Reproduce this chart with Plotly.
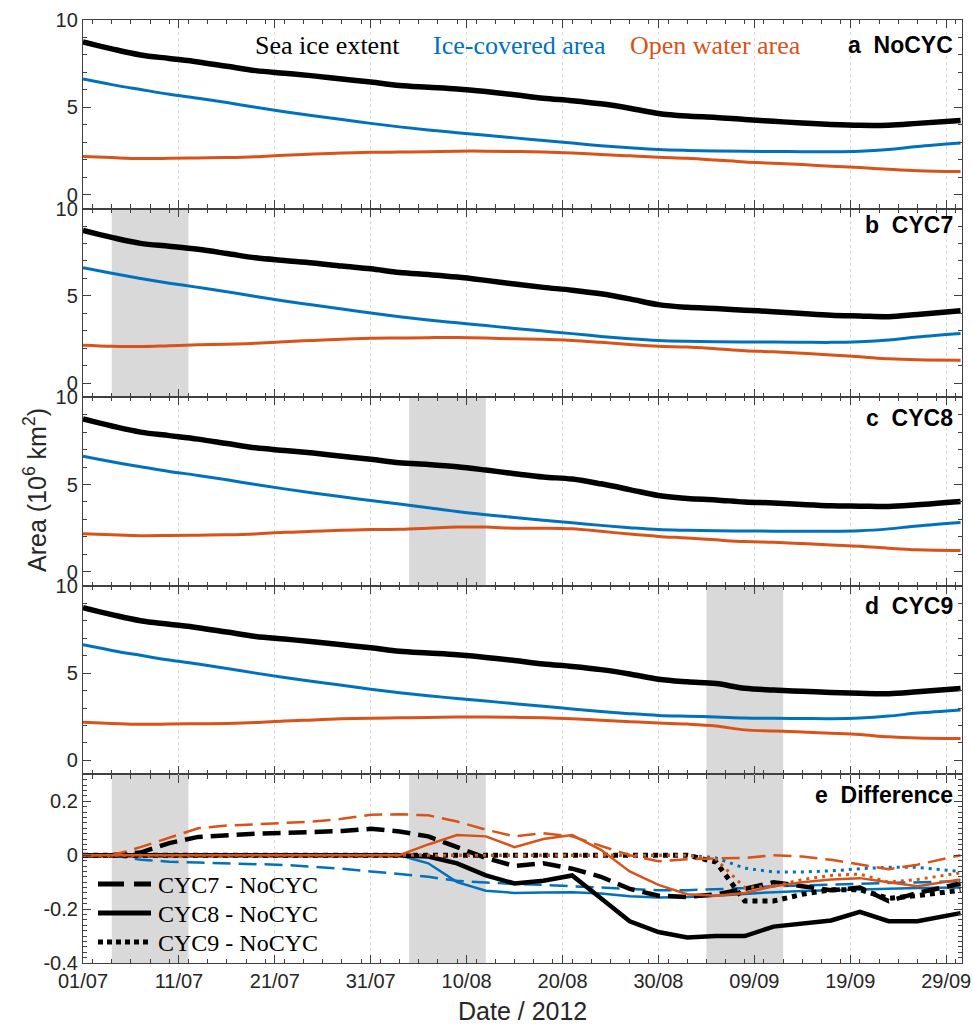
import datetime as dt
import plotly.graph_objects as go
from plotly.subplots import make_subplots

# ---------------- data (values in 10^6 km^2) ----------------
DAYS = [0, 3, 6, 9, 12, 15, 18, 21, 24, 27, 30, 33, 36, 39, 42, 45, 48, 51,
        54, 57, 60, 63, 66, 69, 72, 75, 78, 81, 84, 87, 91.5]
START = dt.datetime(2012, 7, 1)
DATES = [START + dt.timedelta(days=d) for d in DAYS]

# a NoCYC
a_ext = [8.75, 8.35, 8.0, 7.8, 7.6, 7.35, 7.1, 6.95, 6.8, 6.62, 6.45, 6.25, 6.15, 6.05, 5.9, 5.72,
         5.52, 5.38, 5.2, 4.95, 4.65, 4.5, 4.42, 4.3, 4.2, 4.1, 4.02, 3.97, 3.98, 4.08, 4.25]
a_ice = [6.62, 6.3, 6.02, 5.75, 5.52, 5.27, 5.0, 4.75, 4.52, 4.3, 4.08, 3.88, 3.7, 3.55, 3.4, 3.25,
         3.1, 2.95, 2.8, 2.68, 2.58, 2.53, 2.5, 2.48, 2.47, 2.46, 2.45, 2.48, 2.58, 2.75, 2.95]
a_opw = [2.18, 2.12, 2.07, 2.08, 2.1, 2.12, 2.17, 2.26, 2.32, 2.38, 2.42, 2.44, 2.46, 2.49, 2.49, 2.47,
         2.44, 2.38, 2.3, 2.22, 2.14, 2.08, 1.98, 1.87, 1.8, 1.72, 1.63, 1.55, 1.45, 1.37, 1.32]
# b CYC7
b_ext = [8.75, 8.35, 8.01, 7.85, 7.67, 7.43, 7.18, 7.03, 6.89, 6.71, 6.55, 6.34, 6.22, 6.08, 5.89, 5.68,
         5.49, 5.33, 5.12, 4.83, 4.5, 4.35, 4.28, 4.18, 4.1, 3.99, 3.89, 3.85, 3.81, 3.94, 4.15]
b_ice = [6.62, 6.3, 6.0, 5.73, 5.49, 5.24, 4.97, 4.71, 4.48, 4.25, 4.02, 3.81, 3.62, 3.46, 3.3, 3.14,
         2.99, 2.84, 2.68, 2.55, 2.45, 2.4, 2.37, 2.36, 2.36, 2.35, 2.34, 2.38, 2.48, 2.65, 2.85]
b_opw = [2.18, 2.12, 2.1, 2.15, 2.2, 2.23, 2.29, 2.38, 2.45, 2.52, 2.57, 2.59, 2.61, 2.62, 2.59, 2.54,
         2.52, 2.45, 2.34, 2.22, 2.12, 2.07, 1.97, 1.86, 1.8, 1.72, 1.61, 1.52, 1.4, 1.34, 1.32]
# c CYC8
c_ext = [8.75, 8.35, 8.0, 7.8, 7.6, 7.35, 7.1, 6.95, 6.8, 6.62, 6.45, 6.25, 6.15, 6.02, 5.83, 5.62,
         5.43, 5.31, 5.04, 4.71, 4.37, 4.2, 4.12, 4.0, 3.94, 3.85, 3.78, 3.76, 3.74, 3.84, 4.03]
c_ice = [6.62, 6.3, 6.02, 5.75, 5.52, 5.27, 5.0, 4.75, 4.52, 4.3, 4.08, 3.88, 3.67, 3.45, 3.27, 3.11,
         2.96, 2.81, 2.66, 2.53, 2.42, 2.38, 2.35, 2.34, 2.33, 2.33, 2.32, 2.35, 2.46, 2.63, 2.83]
c_opw = [2.18, 2.12, 2.07, 2.08, 2.1, 2.12, 2.17, 2.26, 2.32, 2.38, 2.42, 2.44, 2.5, 2.57, 2.56, 2.5,
         2.5, 2.46, 2.32, 2.16, 2.03, 1.94, 1.83, 1.73, 1.69, 1.62, 1.54, 1.47, 1.35, 1.26, 1.22]
# d CYC9
d_ext = [8.75, 8.35, 8.0, 7.8, 7.6, 7.35, 7.1, 6.95, 6.8, 6.62, 6.45, 6.25, 6.15, 6.05, 5.9, 5.72,
         5.52, 5.38, 5.2, 4.95, 4.65, 4.5, 4.4, 4.13, 4.03, 3.96, 3.89, 3.84, 3.82, 3.93, 4.12]
d_ice = [6.62, 6.3, 6.02, 5.75, 5.52, 5.27, 5.0, 4.75, 4.52, 4.3, 4.08, 3.88, 3.7, 3.55, 3.4, 3.25,
         3.1, 2.95, 2.8, 2.68, 2.58, 2.53, 2.49, 2.43, 2.41, 2.4, 2.39, 2.43, 2.54, 2.71, 2.89]
d_opw = [2.18, 2.12, 2.07, 2.08, 2.1, 2.12, 2.17, 2.26, 2.32, 2.38, 2.42, 2.44, 2.46, 2.49, 2.49, 2.47,
         2.44, 2.38, 2.3, 2.22, 2.14, 2.08, 1.97, 1.75, 1.69, 1.63, 1.56, 1.48, 1.35, 1.28, 1.25]

# e differences
e7_ext = [0, 0, 0.01, 0.045, 0.068, 0.075, 0.08, 0.083, 0.085, 0.09, 0.098, 0.088, 0.07, 0.03, -0.01, -0.04,
          -0.03, -0.05, -0.08, -0.125, -0.15, -0.155, -0.145, -0.125, -0.1, -0.115, -0.13, -0.12, -0.17, -0.14, -0.105]
e7_ice = [0, 0, -0.017, -0.024, -0.027, -0.03, -0.033, -0.036, -0.043, -0.05, -0.06, -0.07, -0.08, -0.095, -0.102, -0.107,
          -0.11, -0.115, -0.122, -0.127, -0.13, -0.13, -0.127, -0.122, -0.115, -0.112, -0.11, -0.105, -0.102, -0.1, -0.096]
e7_opw = [0, 0, 0.03, 0.065, 0.1, 0.11, 0.115, 0.12, 0.125, 0.135, 0.15, 0.152, 0.148, 0.125, 0.095, 0.07,
          0.082, 0.07, 0.035, 0.0, -0.022, -0.015, -0.012, -0.01, 0.0, -0.005, -0.017, -0.035, -0.052, -0.035, 0.0]
e8_ext = [0, 0, 0, 0, 0, 0, 0, 0, 0, 0, 0, 0, -0.005, -0.03, -0.075, -0.105,
          -0.095, -0.075, -0.16, -0.245, -0.285, -0.305, -0.3, -0.3, -0.265, -0.255, -0.242, -0.21, -0.245, -0.245, -0.215]
e8_ice = [0, 0, 0, 0, 0, 0, 0, 0, 0, 0, 0, 0, -0.03, -0.1, -0.132, -0.14,
          -0.138, -0.137, -0.142, -0.152, -0.157, -0.155, -0.15, -0.143, -0.137, -0.133, -0.13, -0.126, -0.124, -0.122, -0.12]
e8_opw = [0, 0, 0, 0, 0, 0, 0, 0, 0, 0, 0, 0, 0.04, 0.075, 0.07, 0.03,
          0.06, 0.075, 0.02, -0.06, -0.11, -0.145, -0.15, -0.14, -0.115, -0.1, -0.09, -0.085, -0.1, -0.115, -0.09]
e9_ext = [0, 0, 0, 0, 0, 0, 0, 0, 0, 0, 0, 0, 0, 0, 0, 0,
          0, 0, 0, 0, 0, 0, -0.025, -0.17, -0.17, -0.145, -0.128, -0.128, -0.16, -0.15, -0.13]
e9_ice = [0, 0, 0, 0, 0, 0, 0, 0, 0, 0, 0, 0, 0, 0, 0, 0,
          0, 0, 0, 0, 0, 0, -0.01, -0.048, -0.062, -0.062, -0.058, -0.05, -0.045, -0.045, -0.06]
e9_opw = [0, 0, 0, 0, 0, 0, 0, 0, 0, 0, 0, 0, 0, 0, 0, 0,
          0, 0, 0, 0, 0, 0, -0.015, -0.12, -0.115, -0.09, -0.075, -0.07, -0.1, -0.09, -0.065]

# cyclone periods (start, end) as day offsets from 01/07
CYC_PERIODS = {2: (3, 11), 3: (34, 42), 4: (65, 73)}

PANEL_LABELS = ["a\u00a0\u00a0NoCYC", "b\u00a0\u00a0CYC7", "c\u00a0\u00a0CYC8", "d\u00a0\u00a0CYC9", "e\u00a0\u00a0Difference"]
LEGEND_NAMES = ["CYC7 - NoCYC", "CYC8 - NoCYC", "CYC9 - NoCYC"]
VAR_NAMES = ["Sea ice extent", "Ice-covered area", "Open water area"]

# ---------------- style ----------------
BLACK = "#000000"
BLUE = "#0072BD"
ORANGE = "#D95319"
AXC = "#404040"
SANS = "Arial, Liberation Sans, sans-serif"
SERIF = "Times New Roman, Liberation Serif, serif"

fig = make_subplots(rows=5, cols=1, shared_xaxes=True, vertical_spacing=0)

panels = [(a_ext, a_ice, a_opw), (b_ext, b_ice, b_opw), (c_ext, c_ice, c_opw), (d_ext, d_ice, d_opw)]
for i, (ext, ice, opw) in enumerate(panels, start=1):
    fig.add_trace(go.Scatter(x=DATES, y=opw, mode="lines", line=dict(color=ORANGE, width=3, shape="spline"),
                             showlegend=False), row=i, col=1)
    fig.add_trace(go.Scatter(x=DATES, y=ice, mode="lines", line=dict(color=BLUE, width=3, shape="spline"),
                             showlegend=False), row=i, col=1)
    fig.add_trace(go.Scatter(x=DATES, y=ext, mode="lines", line=dict(color=BLACK, width=5.5, shape="spline"),
                             showlegend=False), row=i, col=1)

DASH7 = "18px,8px"
DASH_STYLES = {"CYC7": DASH7, "CYC8": "solid", "CYC9": "5px,4px"}
diff = [
    (e8_ice, BLUE, 2.5, "solid"), (e7_ice, BLUE, 2.5, DASH7), (e9_ice, BLUE, 3, "3px,5px"),
    (e8_ext, BLACK, 4.5, "solid"), (e7_ext, BLACK, 4.5, DASH7), (e9_ext, BLACK, 5, "5px,5px"),
    (e8_opw, ORANGE, 2.5, "solid"), (e7_opw, ORANGE, 2.5, DASH7), (e9_opw, ORANGE, 3, "3px,5px"),
]
for y, c, w, dsh in diff:
    fig.add_trace(go.Scatter(x=DATES, y=y, mode="lines", line=dict(color=c, width=w, dash=dsh),
                             showlegend=False), row=5, col=1)

# shading of cyclone periods
for row, (s, e) in CYC_PERIODS.items():
    x0 = START + dt.timedelta(days=s)
    x1 = START + dt.timedelta(days=e)
    for r in (row, 5):
        fig.add_vrect(x0=x0, x1=x1, fillcolor="#d9d9d9", opacity=1, line_width=0, layer="below", row=r, col=1)

DAY_MS = 86400000
for r in range(1, 6):
    fig.update_xaxes(
        row=r, col=1,
        range=[START, START + dt.timedelta(days=91.65)],
        tick0=START, dtick=10 * DAY_MS, tickformat="%d/%m",
        ticks="inside", ticklen=8, tickwidth=1.2, tickcolor=AXC,
        minor=dict(dtick=2 * DAY_MS, ticks="inside", ticklen=4, tickcolor=AXC, showgrid=False),
        showline=True, linecolor=AXC, linewidth=1.3, mirror="ticks",
        showgrid=True, gridcolor="#dadada", griddash="dot", gridwidth=1,
        tickfont=dict(family=SANS, size=20, color="#262626"),
        showticklabels=(r == 5), zeroline=False,
    )
for r in range(1, 5):
    fig.update_yaxes(
        row=r, col=1, range=[-0.8, 10], tickvals=[0, 5, 10], ticktext=["0", "5", "10"],
        ticks="inside", ticklen=8, tickwidth=1.2, tickcolor=AXC,
        minor=dict(dtick=1, ticks="inside", ticklen=4, tickcolor=AXC, showgrid=False),
        showline=True, linecolor=AXC, linewidth=1.3, mirror="ticks",
        showgrid=False, zeroline=False,
        tickfont=dict(family=SANS, size=20, color="#262626"),
    )
fig.update_yaxes(
    row=5, col=1, range=[-0.4, 0.3], tickvals=[-0.4, -0.2, 0, 0.2], ticktext=["-0.4", "-0.2", "0", "0.2"],
    ticks="inside", ticklen=8, tickwidth=1.2, tickcolor=AXC,
    minor=dict(dtick=0.02, ticks="inside", ticklen=4, tickcolor=AXC, showgrid=False),
    showline=True, linecolor=AXC, linewidth=1.3, mirror="ticks",
    showgrid=False, zeroline=False,
    tickfont=dict(family=SANS, size=20, color="#262626"),
)

# annotations
ann = []
shapes = []
H = 943.0
W = 879.0
def py(pix):
    return (963 - pix) / H
def px(pix):
    return (pix - 83) / W

for lab, ypix in zip(PANEL_LABELS, [45, 225, 418, 606, 795]):
    ann.append(dict(text="<b>%s</b>" % lab, x=px(955), y=py(ypix), xref="paper", yref="paper",
                    xanchor="right", yanchor="middle", showarrow=False,
                    font=dict(family=SANS, size=23, color=BLACK)))
for name, c, xpix in zip(VAR_NAMES, [BLACK, BLUE, ORANGE], [253, 431, 628]):
    ann.append(dict(text=name, x=px(xpix), y=py(45), xref="paper", yref="paper",
                    xanchor="left", yanchor="middle", showarrow=False,
                    font=dict(family=SERIF, size=26, color=c)))
ann.append(dict(text="Area (10<sup>6</sup> km<sup>2</sup>)", x=px(35), y=py(490), xref="paper", yref="paper",
                textangle=-90, xanchor="center", yanchor="middle", showarrow=False,
                font=dict(family=SANS, size=25, color="#262626")))
ann.append(dict(text="Date / 2012", x=px(522), y=py(1011), xref="paper", yref="paper",
                xanchor="center", yanchor="middle", showarrow=False,
                font=dict(family=SANS, size=25, color="#262626")))

# legend of panel e (key lines + labels)
for name, ypix in zip(LEGEND_NAMES, [884, 913, 942]):
    dsh = DASH_STYLES[name.split(" ")[0]]
    shapes.append(dict(type="line", xref="paper", yref="paper", x0=px(98), x1=px(151),
                       y0=py(ypix), y1=py(ypix), line=dict(color=BLACK, width=5, dash=dsh if dsh != DASH7 else "26px,10px")))
    ann.append(dict(text=name, x=px(156), y=py(ypix + 1), xref="paper", yref="paper",
                    xanchor="left", yanchor="middle", showarrow=False,
                    font=dict(family=SERIF, size=24, color=BLACK)))

fig.update_layout(
    width=973, height=1028,
    margin=dict(l=83, r=11, t=20, b=65, autoexpand=False),
    paper_bgcolor="white", plot_bgcolor="white",
    annotations=ann,
    shapes=list(fig.layout.shapes) + shapes,
    showlegend=False,
)

fig.write_html("out.html", config={"displayModeBar": False},
               post_script="document.body.style.margin='0';document.body.style.overflow='hidden';")
